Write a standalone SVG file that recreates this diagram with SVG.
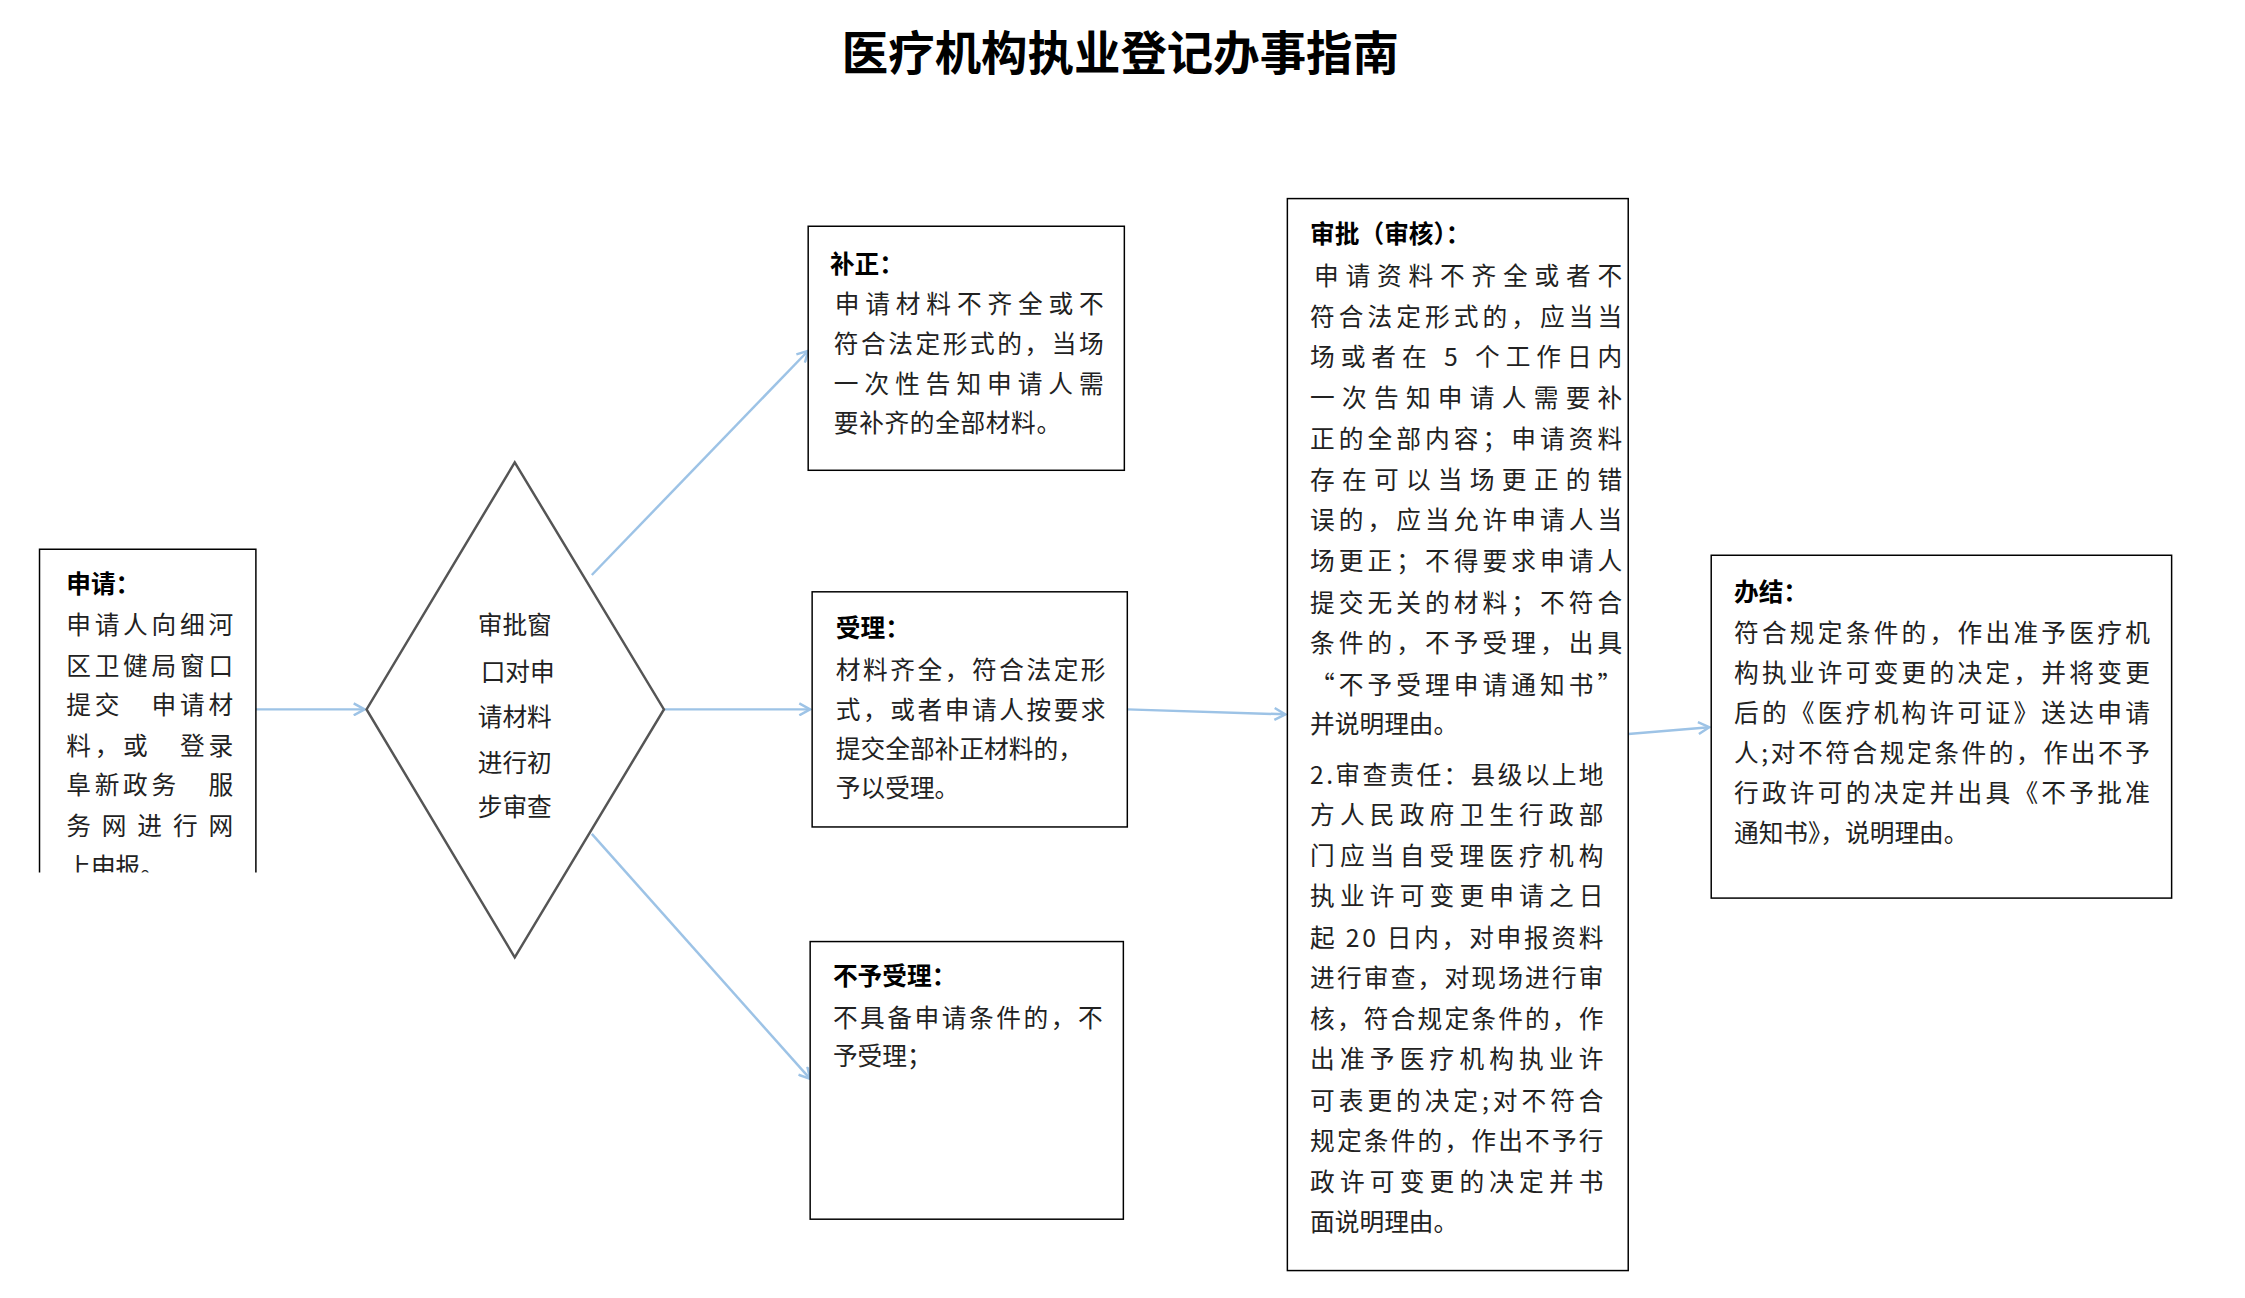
<svg xmlns="http://www.w3.org/2000/svg" width="2245" height="1298" viewBox="0 0 2245 1298">
<style>
.box{fill:#fff;stroke:#000;stroke-width:1.5}
.t{font-family:"Noto Sans CJK SC","Noto Sans",sans-serif;font-size:25px;fill:#222;dominant-baseline:central}
.h{font-family:"Noto Sans CJK SC","Noto Sans",sans-serif;font-size:25px;font-weight:bold;fill:#000;dominant-baseline:central}
.c{stroke:#9dc3e6;stroke-width:2.5;fill:none;marker-end:url(#a)}
</style>
<defs>
<marker id="a" markerWidth="14" markerHeight="14" refX="12" refY="7" orient="auto" markerUnits="userSpaceOnUse"><path d="M1,1 L12,7 L1,13" fill="none" stroke="#9dc3e6" stroke-width="2.5"/></marker>
<clipPath id="cl"><rect x="38" y="554" width="224" height="329"/></clipPath>
</defs>
<rect width="2245" height="1298" fill="#fff"/>
<g transform="scale(0.988)">
<text x="1134" y="50" text-anchor="middle" style="font-family:'Noto Sans CJK SC',sans-serif;font-size:47px;font-weight:bold;dominant-baseline:central">医疗机构执业登记办事指南</text>
<g id="connectors">
<line class="c" x1="259" y1="718" x2="369" y2="718"/>
<line class="c" x1="599" y1="582" x2="818" y2="355"/>
<line class="c" x1="672" y1="718" x2="820" y2="718"/>
<line class="c" x1="599" y1="844" x2="820" y2="1092"/>
<line class="c" x1="1141" y1="718" x2="1301" y2="723"/>
<line class="c" x1="1648" y1="743" x2="1730" y2="736"/>
</g>
<g id="apply">
<path d="M40,883 V556 H259 V883" class="box"/>
<g clip-path="url(#cl)">
<text class="h" x="67" y="589">申请：</text>
<text class="t" x="67" y="631" textLength="169" lengthAdjust="spacing">申请人向细河</text>
<text class="t" x="67" y="672" textLength="169" lengthAdjust="spacing">区卫健局窗口</text>
<text class="t" x="67" y="712" textLength="169" lengthAdjust="spacing">提交　申请材</text>
<text class="t" x="67" y="753" textLength="169" lengthAdjust="spacing">料，或　登录</text>
<text class="t" x="67" y="793" textLength="169" lengthAdjust="spacing">阜新政务　服</text>
<text class="t" x="67" y="834" textLength="169" lengthAdjust="spacing">务网进行网</text>
<text class="t" x="67" y="875">上申报。</text>
</g>
</g>
<g id="check">
<polygon points="521,468 672,718 521,969 371,718" fill="#fff" stroke="#555" stroke-width="2.5"/>
<text class="t" x="521" y="631" text-anchor="middle">审批窗</text>
<text class="t" x="524" y="678" text-anchor="middle">口对申</text>
<text class="t" x="521" y="724" text-anchor="middle">请材料</text>
<text class="t" x="521" y="770" text-anchor="middle">进行初</text>
<text class="t" x="521" y="815" text-anchor="middle">步审查</text>
</g>
<g id="fix">
<rect class="box" x="818" y="229" width="320" height="247"/>
<text class="h" x="840" y="265">补正：</text>
<text class="t" x="845" y="306" textLength="272" lengthAdjust="spacing">申请材料不齐全或不</text>
<text class="t" x="844" y="346" textLength="273" lengthAdjust="spacing">符合法定形式的，当场</text>
<text class="t" x="844" y="387" textLength="273" lengthAdjust="spacing">一次性告知申请人需</text>
<text class="t" x="844" y="426" textLength="230" lengthAdjust="spacing">要补齐的全部材料。</text>
</g>
<g id="accept">
<rect class="box" x="822" y="599" width="319" height="238"/>
<text class="h" x="846" y="634">受理：</text>
<text class="t" x="846" y="676" textLength="273" lengthAdjust="spacing">材料齐全，符合法定形</text>
<text class="t" x="846" y="717" textLength="273" lengthAdjust="spacing">式，或者申请人按要求</text>
<text class="t" x="846" y="756" textLength="250" lengthAdjust="spacing">提交全部补正材料的，</text>
<text class="t" x="846" y="796">予以受理。</text>
</g>
<g id="reject">
<rect class="box" x="820" y="953" width="317" height="281"/>
<text class="h" x="843" y="986">不予受理：</text>
<text class="t" x="843" y="1028" textLength="273" lengthAdjust="spacing">不具备申请条件的，不</text>
<text class="t" x="843" y="1067">予受理；</text>
</g>
<g id="approve">
<rect class="box" x="1303" y="201" width="345" height="1085"/>
<text class="h" x="1326" y="235">审批（审核）：</text>
<g class="t">
<text x="1330" y="277" textLength="312" lengthAdjust="spacing">申请资料不齐全或者不</text>
<text x="1326" y="319" textLength="316" lengthAdjust="spacing">符合法定形式的，应当当</text>
<text x="1326" y="359" textLength="316" lengthAdjust="spacing">场或者在 5 个工作日内</text>
<text x="1326" y="401" textLength="316" lengthAdjust="spacing">一次告知申请人需要补</text>
<text x="1326" y="442" textLength="316" lengthAdjust="spacing">正的全部内容；申请资料</text>
<text x="1326" y="484" textLength="316" lengthAdjust="spacing">存在可以当场更正的错</text>
<text x="1326" y="524" textLength="316" lengthAdjust="spacing">误的，应当允许申请人当</text>
<text x="1326" y="566" textLength="316" lengthAdjust="spacing">场更正；不得要求申请人</text>
<text x="1326" y="608" textLength="316" lengthAdjust="spacing">提交无关的材料；不符合</text>
<text x="1326" y="649" textLength="316" lengthAdjust="spacing">条件的，不予受理，出具</text>
<text x="1326" y="691" textLength="316" lengthAdjust="spacing">“不予受理申请通知书”</text>
<text x="1326" y="731">并说明理由。</text>
<text x="1326" y="782" textLength="297" lengthAdjust="spacing">2.审查责任：县级以上地</text>
<text x="1326" y="823" textLength="297" lengthAdjust="spacing">方人民政府卫生行政部</text>
<text x="1326" y="864" textLength="297" lengthAdjust="spacing">门应当自受理医疗机构</text>
<text x="1326" y="905" textLength="297" lengthAdjust="spacing">执业许可变更申请之日</text>
<text x="1326" y="947" textLength="297" lengthAdjust="spacing">起 20 日内，对申报资料</text>
<text x="1326" y="988" textLength="297" lengthAdjust="spacing">进行审查，对现场进行审</text>
<text x="1326" y="1029" textLength="297" lengthAdjust="spacing">核，符合规定条件的，作</text>
<text x="1326" y="1070" textLength="297" lengthAdjust="spacing">出准予医疗机构执业许</text>
<text x="1326" y="1112" textLength="297" lengthAdjust="spacing">可表更的决定;对不符合</text>
<text x="1326" y="1153" textLength="297" lengthAdjust="spacing">规定条件的，作出不予行</text>
<text x="1326" y="1194" textLength="297" lengthAdjust="spacing">政许可变更的决定并书</text>
<text x="1326" y="1235">面说明理由。</text>
</g>
</g>
<g id="done">
<rect class="box" x="1732" y="562" width="466" height="347"/>
<text class="h" x="1755" y="597">办结：</text>
<g class="t">
<text x="1755" y="639" textLength="421" lengthAdjust="spacing">符合规定条件的，作出准予医疗机</text>
<text x="1755" y="679" textLength="421" lengthAdjust="spacing">构执业许可变更的决定，并将变更</text>
<text x="1755" y="720" textLength="421" lengthAdjust="spacing">后的《医疗机构许可证》送达申请</text>
<text x="1755" y="760" textLength="421" lengthAdjust="spacing">人;对不符合规定条件的，作出不予</text>
<text x="1755" y="801" textLength="421" lengthAdjust="spacing">行政许可的决定并出具《不予批准</text>
<text x="1755" y="841">通知书》，说明理由。</text>
</g>
</g>
</g>
</svg>
